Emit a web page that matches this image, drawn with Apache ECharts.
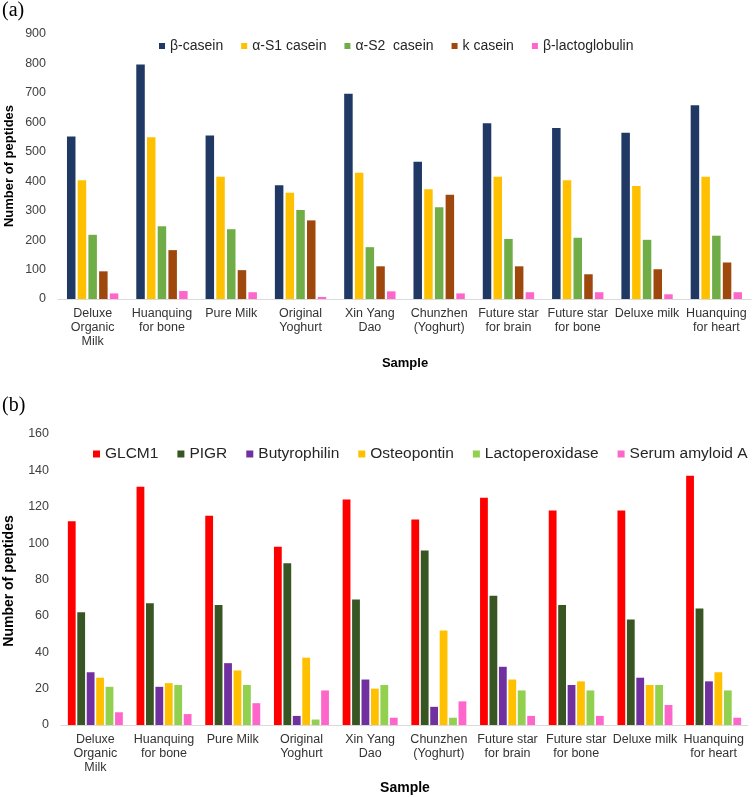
<!DOCTYPE html>
<html><head><meta charset="utf-8">
<script src="https://cdn.jsdelivr.net/npm/echarts@6/dist/echarts.min.js"></script>
<style>html,body{margin:0;padding:0;background:#fff}#c{width:753px;height:797px}</style>
</head><body><div id="c"></div>
<script>
// ---- data ----
const samples = ["Deluxe\nOrganic\nMilk","Huanquing\nfor bone","Pure Milk","Original\nYoghurt","Xin Yang\nDao","Chunzhen\n(Yoghurt)","Future star\nfor brain","Future star\nfor bone","Deluxe milk","Huanquing\nfor heart"];

const caseinNames = ["β-casein","α-S1 casein","α-S2  casein","k casein","β-lactoglobulin"];
const betaCasein  = [552,796,555,386,697,466,597,581,565,658];
const alphaS1     = [403,549,415,361,429,373,415,403,384,415];
const alphaS2     = [218,247,237,302,176,312,204,208,201,215];
const kCasein     = [94,166,98,267,111,354,111,84,101,124];
const betaLacto   = [19,27,23,7,26,19,23,23,16,23];
const caseinTicks = [0,100,200,300,400,500,600,700,800,900];

const minorNames  = ["GLCM1","PIGR","Butyrophilin","Osteopontin","Lactoperoxidase","Serum amyloid A"];
const glcm1       = [112,131,115,98,124,113,125,118,118,137];
const pigr        = [62,67,66,89,69,96,71,66,58,64];
const butyrophilin= [29,21,34,5,25,10,32,22,26,24];
const osteopontin = [26,23,30,37,20,52,25,24,22,29];
const lactoperox  = [21,22,22,3,22,4,19,19,22,19];
const serumAmyloid= [7,6,12,19,4,13,5,5,11,4];
const minorTicks  = [0,20,40,60,80,100,120,140,160];

// ---- styles ----
const caseinColors = ["#1f3864","#ffc000","#70ad47","#9e480e","#ff66cc"];
const minorColors  = ["#ff0000","#375623","#7030a0","#ffc000","#92d050","#ff66cc"];
const FONT = "Liberation Sans, Arial, sans-serif";

const chart = echarts.init(document.getElementById('c'), null, {renderer:'canvas'});

const caseinData = [betaCasein, alphaS1, alphaS2, kCasein, betaLacto];
const minorData = [glcm1, pigr, butyrophilin, osteopontin, lactoperox, serumAmyloid];

function xAxisCfg(gi){
  return {
    type:'category', gridIndex:gi, data:samples,
    axisLine:{show:true, lineStyle:{color:'#d9d9d9', width:1}},
    axisTick:{show:false},
    axisLabel:{interval:0, color:'#333333', fontSize:12.5, fontFamily:FONT, lineHeight:14, margin:8}
  };
}
function yAxisCfg(gi, ticks){
  return {
    type:'value', gridIndex:gi, min:ticks[0], max:ticks[ticks.length-1], interval:ticks[1]-ticks[0],
    axisLine:{show:false}, axisTick:{show:false}, splitLine:{show:false},
    axisLabel:{color:'#404040', fontSize:12.5, fontFamily:FONT, margin:12}
  };
}

const series = [];
caseinNames.forEach((n,i)=>{
  series.push({name:n, type:'bar', xAxisIndex:0, yAxisIndex:0, data:caseinData[i],
    barWidth:8.5, barGap:'26%', itemStyle:{color:caseinColors[i]}, animation:false});
});
minorNames.forEach((n,i)=>{
  series.push({name:n, type:'bar', xAxisIndex:1, yAxisIndex:1, data:minorData[i],
    barWidth:7.8, barGap:'21%', itemStyle:{color:minorColors[i]}, animation:false});
});

chart.setOption({
  animation:false,
  backgroundColor:'#fff',
  grid:[
    {left:58, right:2, top:34, bottom:498},
    {left:61, right:5, top:434, bottom:72}
  ],
  xAxis:[xAxisCfg(0), xAxisCfg(1)],
  yAxis:[yAxisCfg(0, caseinTicks), yAxisCfg(1, minorTicks)],
  legend:[
    {data:caseinNames, left:154, top:34, icon:'rect', itemWidth:6, itemHeight:6, itemGap:18,
     textStyle:{fontSize:14, color:'#262626', fontFamily:FONT}},
    {data:minorNames, left:88, top:441, icon:'rect', itemWidth:7, itemHeight:7, itemGap:19,
     textStyle:{fontSize:15.5, color:'#262626', fontFamily:FONT}}
  ],
  graphic:[
    {type:'text', left:2, top:1, style:{text:'(a)', font:'20px "Liberation Serif", serif', fill:'#000'}},
    {type:'text', left:2, top:396, style:{text:'(b)', font:'20px "Liberation Serif", serif', fill:'#000'}},
    {type:'text', x:9, y:166, rotation:Math.PI/2, style:{text:'Number of peptides', font:'bold 13px '+FONT, fill:'#000', align:'center', verticalAlign:'middle'}},
    {type:'text', x:9, y:581, rotation:Math.PI/2, style:{text:'Number of peptides', font:'bold 14px '+FONT, fill:'#000', align:'center', verticalAlign:'middle'}},
    {type:'text', x:405, y:363, style:{text:'Sample', font:'bold 13px '+FONT, fill:'#000', align:'center', verticalAlign:'middle'}},
    {type:'text', x:405, y:788, style:{text:'Sample', font:'bold 14px '+FONT, fill:'#000', align:'center', verticalAlign:'middle'}}
  ],
  series:series
});
</script>
</body></html>
